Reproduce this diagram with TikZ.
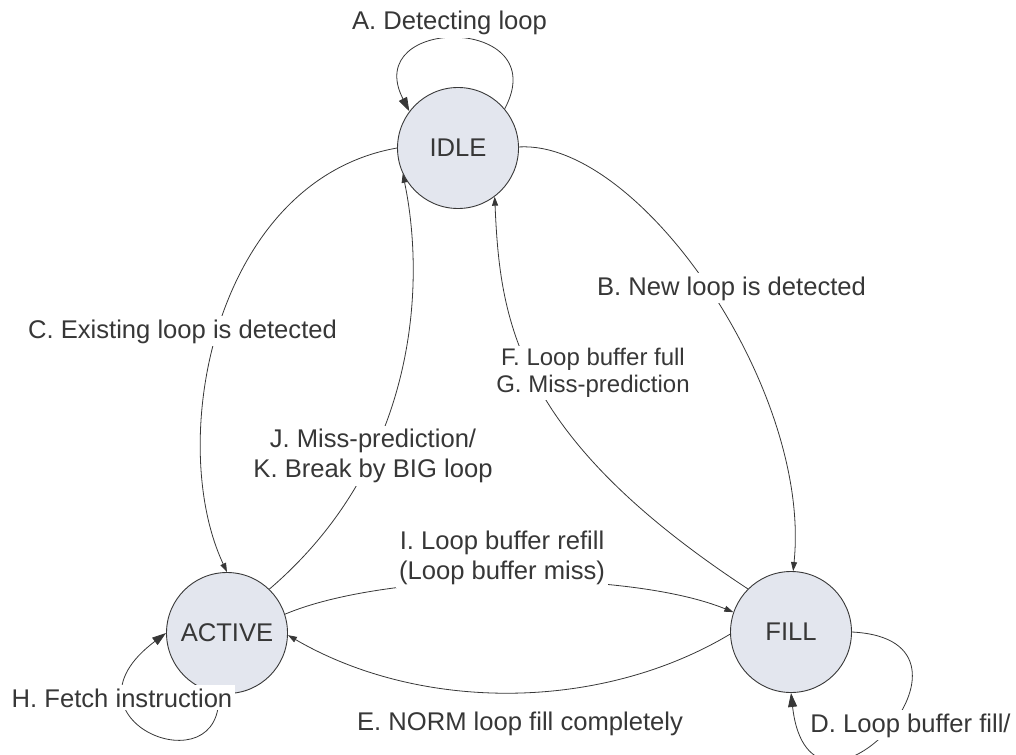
\documentclass[tikz,border=0pt]{standalone}
\usepackage{fontspec}
\setmainfont{Liberation Sans}
\usetikzlibrary{arrows.meta}
\definecolor{statefill}{RGB}{227,230,238}
\definecolor{ink}{RGB}{55,55,55}
\begin{document}
\begin{tikzpicture}[x=1pt,y=-1pt,
  state/.style={circle,draw=ink,fill=statefill,line width=0.9pt,minimum size=121pt,
    inner sep=0pt,font=\fontsize{25.6}{30}\selectfont,text=ink},
  lbl/.style={fill=white,inner sep=3pt,font=\fontsize{25.6}{29.5}\selectfont,text=ink,align=center},
  smalllbl/.style={lbl,font=\fontsize{24}{26.5}\selectfont},
  edge/.style={draw=ink,line width=0.8pt,-{Triangle[length=9pt,width=6pt]}},
  loopedge/.style={draw=ink,line width=0.8pt,-{Triangle[length=14pt,width=9pt]}},
]
\useasboundingbox (0,0) rectangle (1016,754);

% states
\node[state] (idle)   at (458,148) {IDLE};
\node[state] (active) at (227,633) {ACTIVE};
\node[state] (fill)   at (791,632) {FILL};

% transitions
\draw[loopedge] (idle.40) .. controls (555,15) and (360,15) .. (idle.143);
\draw[edge] (idle.1) .. controls (640,140) and (812,390) .. (fill.88);
\draw[edge] (idle.west) .. controls (215,180) and (165,440) .. (active.north);
\draw[edge] (active.46) .. controls (420,460) and (425,280) .. (idle.205);
\draw[edge] (fill.135) .. controls (515,436) and (500,320) .. (idle.307);
\draw[edge] (active.18) .. controls (390,570) and (630,570) .. (fill.161);
\draw[edge] (fill.182) .. controls (600,712) and (420,712) .. (active.-2);
\draw[loopedge] (active.262) .. controls (225,790) and (50,720) .. (active.west);
\draw[loopedge] (fill.east) .. controls (1010,640) and (810,860) .. (fill.south);

% transition labels
\node[lbl,anchor=base] (la)  at (449.5,30) {A. Detecting loop};
\node[lbl,anchor=base] (lb)  at (731.5,295) {B. New loop is detected};
\node[lbl,anchor=base] (lc)  at (182.5,338) {C. Existing loop is detected};
\node[lbl,anchor=base] (ld)  at (910.5,732) {D. Loop buffer fill/};
\node[lbl,anchor=base] (le)  at (520,730) {E. NORM loop fill completely};
\node[smalllbl]        (lfg) at (593,373) {F. Loop buffer full\\G. Miss-prediction};
\node[lbl,anchor=base] (lh)  at (122,707) {H. Fetch instruction};
\node[lbl]             (li)  at (502,558) {I. Loop buffer refill\\(Loop buffer miss)};
\node[lbl]             (ljk) at (373,456) {J. Miss-prediction/\\K. Break by BIG loop};
\end{tikzpicture}
\end{document}
